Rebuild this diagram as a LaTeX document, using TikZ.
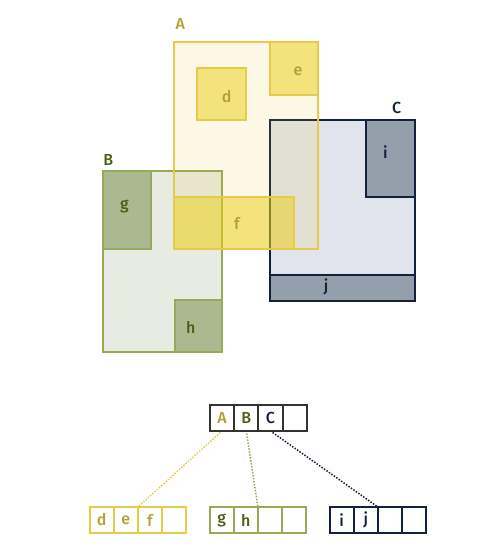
\documentclass[tikz,border=0pt]{standalone}
\usepackage{fontspec}
\setmainfont{Fira Sans}[UprightFont={* Medium}]
\usetikzlibrary{calc}
\definecolor{ystroke}{HTML}{E2CC48}
\definecolor{yfill}{HTML}{EBB905}
\definecolor{yin}{HTML}{EBD014}
\definecolor{ytext}{HTML}{B4A032}
\definecolor{gstroke}{HTML}{96AA5A}
\definecolor{gfill}{HTML}{E8EBE1}
\definecolor{gin}{HTML}{ACB890}
\definecolor{gtext}{HTML}{4B5F19}
\definecolor{navy}{HTML}{14213D}
\definecolor{nfill}{HTML}{E1E5EB}
\definecolor{nin}{HTML}{949FAC}
\definecolor{topgray}{HTML}{333333}
\tikzset{
  every node/.style={font=\fontsize{16}{18}\selectfont, inner sep=0pt},
  abig/.style={draw=ystroke, line width=2pt, fill=yfill, fill opacity=0.1},
  ain/.style={draw=ystroke, line width=2pt, fill=yin, fill opacity=0.5},
  bbig/.style={draw=gstroke, line width=2pt, fill=gfill},
  bin/.style={draw=gstroke, line width=2pt, fill=gin},
  cbig/.style={draw=navy, line width=2pt, fill=nfill},
  cin/.style={draw=navy, line width=2pt, fill=nin},
  cell/.style={draw, line width=2pt, minimum width=24.2pt, minimum height=26pt, anchor=north west, outer sep=0pt},
  link/.style={line width=1.5pt, dash pattern=on 1.5pt off 1.5pt, shorten <=2.5pt},
}
\begin{document}
\begin{tikzpicture}[x=1pt,y=-1pt]
\useasboundingbox (0,0) rectangle (501,555);
% C
\draw[cbig] (270,120) rectangle (415,301);
\draw[cin] (366,120) rectangle (415,197);
\draw[cin] (270,275) rectangle (415,301);
% B
\draw[bbig] (103,171) rectangle (222,352);
\draw[bin] (103,171) rectangle (151,249);
\draw[bin] (175,300) rectangle (222,352);
% A
\draw[abig] (174,42) rectangle (318,249);
\draw[ain] (270,42) rectangle (318,95);
\draw[ain] (197,68) rectangle (246,120);
\draw[ain] (174,197) rectangle (294,249);
% labels
\node[text=ytext] (lA) at (180.3,24.2) {A};
\node[text=gtext] (lB) at (108.3,159.5) {B};
\node[text=navy] (lC) at (396.7,107.5) {C};
\node[text=ytext] (ld) at (226.7,96.8) {d};
\node[text=ytext] (le) at (298,71.3) {e};
\node[text=ytext] (lf) at (237,223.5) {f};
\node[text=gtext] (lg) at (124.3,206.7) {g};
\node[text=gtext] (lh) at (190.7,327.2) {h};
\node[text=navy] (li) at (385.5,152.5) {i};
\node[text=navy] (lj) at (326,287.2) {j};
% top array
\node[cell, draw=topgray, text=ytext] (t1) at (210,405) {A};
\node[cell, draw=topgray, text=gtext] (t2) at (t1.north east) {B};
\node[cell, draw=topgray, text=navy] (t3) at (t2.north east) {C};
\node[cell, draw=topgray] (t4) at (t3.north east) {};
% A array
\node[cell, draw=ystroke, text=ytext] (a1) at (89.5,507) {d};
\node[cell, draw=ystroke, text=ytext] (a2) at (a1.north east) {e};
\node[cell, draw=ystroke, text=ytext] (a3) at (a2.north east) {f};
\node[cell, draw=ystroke] (a4) at (a3.north east) {};
% B array
\node[cell, draw=gstroke, text=gtext] (b1) at (209.5,507) {g};
\node[cell, draw=gstroke, text=gtext] (b2) at (b1.north east) {h};
\node[cell, draw=gstroke] (b3) at (b2.north east) {};
\node[cell, draw=gstroke] (b4) at (b3.north east) {};
% C array
\node[cell, draw=navy, text=navy] (c1) at (329.5,507) {i};
\node[cell, draw=navy, text=navy] (c2) at (c1.north east) {j};
\node[cell, draw=navy] (c3) at (c2.north east) {};
\node[cell, draw=navy] (c4) at (c3.north east) {};
% links
\draw[link, draw=ystroke] (t1.south) -- (a2.north east);
\draw[link, draw=gstroke] (t2.south) -- (b2.north east);
\draw[link, draw=navy] (t3.south) -- (c2.north east);
\end{tikzpicture}
\end{document}
